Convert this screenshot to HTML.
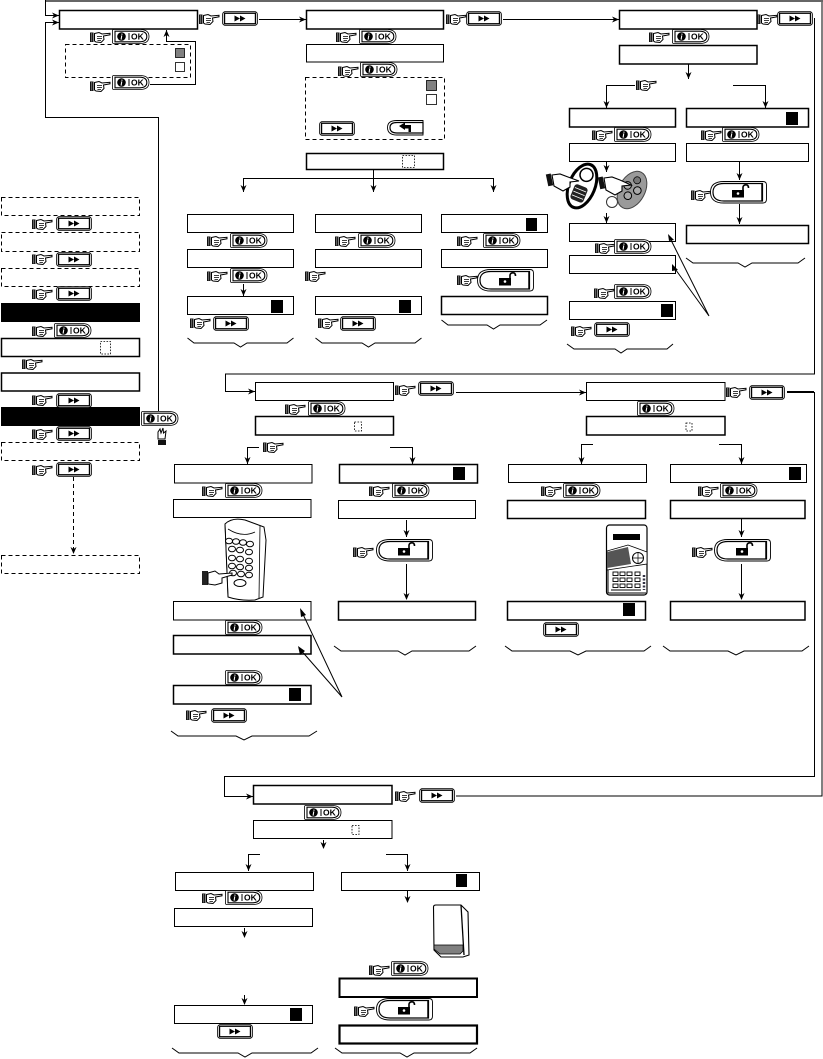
<!DOCTYPE html>
<html><head><meta charset="utf-8"><style>
html,body{margin:0;padding:0;background:#fff}
svg{display:block}
.b{fill:#fff;stroke:#000;stroke-width:1;shape-rendering:crispEdges}
.t{fill:#fff;stroke:#000;stroke-width:1.5}
.d{fill:#fff;stroke:#000;stroke-width:1;stroke-dasharray:4 3;shape-rendering:crispEdges}
.s{fill:#fff;stroke:#000;stroke-width:.8;stroke-dasharray:1.6 1.4}
.l{fill:none;stroke:#000;stroke-width:1;shape-rendering:crispEdges}
.g{fill:none;stroke:#000;stroke-width:1}
.k{fill:#000}
</style></head><body>
<svg width="823" height="1059" viewBox="0 0 823 1059" xmlns="http://www.w3.org/2000/svg">
<defs>
<g id="hand">
<rect x="0" y="1.500" width="3.500" height="9.500" fill="#111"/>
<rect x="1.300" y="2" width=".8" height="8.500" fill="#888"/>
<path d="M4.500 2.500L9 1.500L12 3L20 2.300L20 3.800L13.500 5L14 8.500L11 11.500L6 11L4.500 10Z" fill="#fff" stroke="#000" stroke-width="1"/>
<path d="M7 5.500H12M7 7.500H12M7.500 9.500H11" stroke="#000" stroke-width=".7" fill="none"/>
</g>
<g id="ok">
<path d="M1.500 .5H29Q37 1 37 7.500Q37 14 29 14.500H1.500Q.5 14.500 .5 13V2Q.5 .5 1.500 .5Z" fill="#fff" stroke="#000" stroke-width=".8"/>
<path d="M3 2.200H28Q34.800 2.500 34.800 7.500Q34.800 12.500 28 12.800H3V2.200Z" fill="#fff" stroke="#000" stroke-width="1.100"/>
<circle cx="9.500" cy="7.500" r="4.300" fill="#000"/>
<text x="9.500" y="10.500" font-family="'Liberation Serif',serif" font-size="8" font-weight="bold" font-style="italic" fill="#fff" text-anchor="middle">i</text>
<rect x="16.500" y="4" width="1" height="7" fill="#000"/>
<text x="19" y="10.500" font-family="'Liberation Sans',sans-serif" font-size="8.500" font-weight="bold" fill="#000">OK</text>
</g>
<g id="ff">
<rect x=".5" y=".5" width="35" height="14" rx="3" fill="#fff" stroke="#000" stroke-width=".8"/>
<rect x="2.500" y="2.200" width="31" height="10.600" fill="#fff" stroke="#000" stroke-width="1.400"/>
<path d="M12.500 4.500L18 7.500L12.500 10.500ZM18 4.500L23.500 7.500L18 10.500Z" fill="#000"/>
</g>
<g id="lock">
<path d="M14 .5H53Q56.500 .5 56.500 4V18Q56.500 22 53 22H14Q.5 22 .5 11.200Q.5 .5 14 .5Z" fill="#fff" stroke="#000" stroke-width=".9"/>
<path d="M14 2.500H52.500V20H14Q3 20 3 11.200Q3 2.500 14 2.500Z" fill="#fff" stroke="#000" stroke-width="1.200"/>
<path d="M52 2.500V20" stroke="#000" stroke-width="1.500"/>
<path d="M21 9H33V16.500H21Z" fill="#000" transform="translate(1,0)"/>
<circle cx="28" cy="12.500" r="1.300" fill="#fff"/>
<path d="M33 9V6Q33.500 3.800 36 3.800Q38.500 3.800 38.500 7" fill="none" stroke="#000" stroke-width="1.600"/>
</g>
<path id="ad" d="M0 0L-3 -7L0 -5L3 -7Z" fill="#000"/>
<path id="ar" d="M0 0L-7 -3L-5 0L-7 3Z" fill="#000"/>
<path id="au" d="M0 0L-3 7L0 5L3 7Z" fill="#000"/>
</defs>

<!-- outer return loop -->
<path d="M45.500 1H822V796H456" class="l" style="stroke-width:1.400"/>
<rect x="45" y="0" width="778" height="2" fill="#666"/>
<path d="M45.500 0V15.500H59" class="l"/><use href="#ar" x="59" y="15.500"/>
<path d="M158.500 411V117.500H45.500V22.500H59" class="l"/><use href="#ar" x="59" y="22.500"/>
<path d="M814.500 18V374H225.500V391.500H255" class="l" style="stroke-width:1.200"/><use href="#ar" x="255" y="391.500"/>
<path d="M787 392.500H814.500V776.500H224.500V796.500H253" class="l"/>
<path d="M787 392H814" class="l" style="stroke-width:1.600"/>
<use href="#ar" x="253" y="796.500"/>

<!-- top row links -->
<path d="M259 19.500H306" class="l"/><use href="#ar" x="306" y="19.500"/>
<path d="M503 19.500H619" class="l"/><use href="#ar" x="619" y="19.500"/>
<path d="M456 392.500H586" class="l"/><use href="#ar" x="586" y="392.500"/>

<!-- Block A -->
<rect class="t" x="59.500" y="10.500" width="138" height="18.500"/>
<rect class="d" x="65.500" y="44.500" width="125" height="33"/>
<rect x="175.500" y="48.500" width="9" height="9" fill="#808080" stroke="#000" stroke-width=".8"/>
<rect x="175.500" y="62.500" width="9" height="9" fill="#fff" stroke="#000" stroke-width=".8"/>
<path d="M150 84.500H195.500V41.500H166.500V30" class="l"/><use href="#au" x="166.500" y="30"/>
<use href="#hand" x="199" y="13"/><use href="#ff" x="222" y="11"/>
<use href="#hand" x="90" y="31"/><use href="#ok" x="112" y="29"/>
<use href="#hand" x="90" y="80"/><use href="#ok" x="112" y="75"/>

<!-- Block B -->
<rect class="t" x="306.500" y="10.500" width="137" height="18.500"/>
<rect class="b" x="306.500" y="44.500" width="137" height="17.500"/>
<rect class="d" x="305.500" y="77.500" width="139" height="62"/>
<rect x="426.500" y="80.500" width="10" height="10" fill="#808080" stroke="#000" stroke-width=".8"/>
<rect x="426.500" y="94.500" width="10" height="10" fill="#fff" stroke="#000" stroke-width=".8"/>
<rect class="t" x="306.500" y="153.500" width="137" height="16"/>
<rect class="s" x="402.500" y="155.500" width="12" height="12"/>
<use href="#hand" x="446" y="13"/><use href="#ff" x="466" y="11"/>
<use href="#hand" x="336" y="31"/><use href="#ok" x="359" y="29"/>
<use href="#hand" x="338" y="65"/><use href="#ok" x="360" y="62"/>
<use href="#ff" x="319" y="121"/>
<g transform="translate(387,120)">
<path d="M36 .5V15H10Q.5 15 .5 7.500Q.5 .5 10 .5Z" fill="#fff" stroke="#000" stroke-width=".9"/>
<path d="M36 2.500V13H10Q3 13 3 7.500Q3 2.500 10 2.500Z" fill="#fff" stroke="#000" stroke-width="1.200"/>
<path d="M12 6L18 2.500V5H24V12H21.500V8.500H18V10Z" fill="#000"/>
</g>
<path d="M373.500 170V178.500M243.500 192V178.500H493.500V192M373.500 178V192" class="l"/>
<use href="#ad" x="243.500" y="192"/><use href="#ad" x="373.500" y="192"/><use href="#ad" x="493.500" y="192"/>

<!-- D -->
<rect class="b" x="187.500" y="214.500" width="106" height="18"/>
<rect class="b" x="187.500" y="249.500" width="106" height="18"/>
<rect class="b" x="187.500" y="296.500" width="106" height="18"/>
<rect class="k" x="271" y="300" width="12" height="13"/>
<use href="#hand" x="207" y="235"/><use href="#ok" x="230" y="233"/>
<use href="#hand" x="207" y="270"/><use href="#ok" x="230" y="268"/>
<path d="M243.500 284V296" class="l"/><use href="#ad" x="243.500" y="296"/>
<use href="#hand" x="190" y="317"/><use href="#ff" x="213" y="316"/>
<path d="M187.500 338L194 343H234L240.500 347L247 343H287L293.500 338" class="g"/>

<!-- E -->
<rect class="b" x="315.500" y="214.500" width="106" height="18"/>
<rect class="b" x="315.500" y="249.500" width="106" height="18"/>
<rect class="b" x="315.500" y="296.500" width="106" height="18"/>
<rect class="k" x="399" y="300" width="12" height="13"/>
<use href="#hand" x="335" y="235"/><use href="#ok" x="358" y="233"/>
<use href="#hand" x="305" y="270"/>
<use href="#hand" x="318" y="317"/><use href="#ff" x="340" y="316"/>
<path d="M315.500 338L322 343H362L368.500 347L375 343H415L421.500 338" class="g"/>

<!-- F -->
<rect class="b" x="441.500" y="214.500" width="106" height="18"/>
<rect class="k" x="526" y="218" width="11" height="13"/>
<rect class="b" x="441.500" y="249.500" width="106" height="18"/>
<rect class="t" x="441.500" y="296.500" width="106" height="18"/>
<use href="#hand" x="457" y="235"/><use href="#ok" x="483" y="233"/>
<use href="#hand" x="457" y="274"/><use href="#lock" x="477" y="269"/>
<path d="M441.500 320L448 325H487L493.500 329L500 325H540L547 320" class="g"/>

<!-- C -->
<rect class="t" x="619.500" y="10.500" width="137.500" height="18.500"/>
<rect class="t" x="619.500" y="45.500" width="137.500" height="18.500"/>
<use href="#hand" x="757" y="13"/><use href="#ff" x="777" y="11"/>
<use href="#hand" x="649" y="31"/><use href="#ok" x="672" y="29"/>
<path d="M688.500 64V79" class="l"/><use href="#ad" x="688.500" y="79"/>
<path d="M635 85.500H606.500V108M733 85.500H765.500V108" class="l"/>
<use href="#ad" x="606.500" y="108"/><use href="#ad" x="765.500" y="108"/>
<use href="#hand" x="636" y="79"/>
<rect class="t" x="569.500" y="108.500" width="106" height="18.500"/>
<rect class="b" x="569.500" y="143.500" width="106" height="18"/>
<use href="#hand" x="592" y="129"/><use href="#ok" x="614" y="127"/>
<path d="M606.500 162V172" class="l"/><use href="#ad" x="606.500" y="172"/>
<!-- remotes -->
<g transform="rotate(22 582 186)">
<ellipse cx="582" cy="186" rx="13" ry="23" fill="#fff" stroke="#000" stroke-width="3"/>
<circle cx="582" cy="174" r="6.500" fill="#fff" stroke="#000" stroke-width="1.500"/>
<rect x="575" y="186" width="14" height="16" rx="3" fill="#222"/>
<path d="M576 190H588M576 194H588M576 198H588" stroke="#fff" stroke-width=".8"/>
</g>
<circle cx="612" cy="202" r="5.500" fill="#fff" stroke="#333" stroke-width="1"/>
<g transform="rotate(28 632 190)">
<ellipse cx="632" cy="190" rx="13" ry="20" fill="#9a9a9a" stroke="#444" stroke-width="1"/>
<circle cx="632" cy="179" r="3.500" fill="#777" stroke="#000" stroke-width=".8"/>
<circle cx="626" cy="188" r="3.800" fill="#aaa" stroke="#000" stroke-width="1"/>
<circle cx="637" cy="188" r="3.800" fill="#aaa" stroke="#000" stroke-width="1"/>
<circle cx="631" cy="197" r="3.800" fill="#aaa" stroke="#000" stroke-width="1"/>
</g>
<rect x="547" y="174" width="5" height="12" fill="#111" transform="rotate(-12 549 180)"/>
<path d="M552 175L560 174L568 177L579 181L570 182L570 187L563 191L554 186Z" fill="#fff" stroke="#000" stroke-width="1.100"/>
<rect x="599" y="177" width="5" height="12" fill="#111" transform="rotate(-12 601 183)"/>
<path d="M604 178L612 177L620 180L631 185L622 186L622 191L615 195L606 190Z" fill="#fff" stroke="#000" stroke-width="1.100"/>
<path d="M606.500 213V223" class="l"/><use href="#ad" x="606.500" y="223"/>
<rect class="b" x="569.500" y="223.500" width="106" height="18"/>
<rect class="b" x="569.500" y="255.500" width="106" height="18"/>
<rect class="b" x="569.500" y="301.500" width="106" height="18"/>
<rect class="k" x="661" y="304" width="12" height="13"/>
<use href="#hand" x="595" y="242"/><use href="#ok" x="614" y="239"/>
<use href="#hand" x="594" y="287"/><use href="#ok" x="614" y="284"/>
<use href="#hand" x="571" y="325"/><use href="#ff" x="594" y="322"/>
<path d="M567 344L574 349H615L621 353L627 349H667L673 344" class="g"/>
<path d="M709 316L669 236M709 316L673 266" class="g"/>
<path d="M668 234L674 240L669 241Z" class="k"/><path d="M672 264L678 270L672 271Z" class="k"/>

<rect class="t" x="686.500" y="108.500" width="122" height="18.500"/>
<rect class="k" x="786" y="112" width="12" height="13"/>
<rect class="b" x="686.500" y="143.500" width="122" height="18"/>
<use href="#hand" x="701" y="129"/><use href="#ok" x="722" y="127"/>
<path d="M739.500 162V180" class="l"/><use href="#ad" x="739.500" y="180"/>
<path d="M739.500 204V224" class="l"/><use href="#ad" x="739.500" y="224"/>
<use href="#hand" x="691" y="189"/><use href="#lock" x="710" y="181"/>
<rect class="t" x="686.500" y="225.500" width="122" height="18"/>
<path d="M686 258L693 263H738L745 267L752 263H798L805 258" class="g"/>

<!-- Left column -->
<rect class="d" x="1.500" y="197.500" width="138" height="18"/>
<rect class="d" x="1.500" y="232.500" width="138" height="19"/>
<rect class="d" x="1.500" y="268.500" width="138" height="18"/>
<rect class="k" x="1" y="303" width="139" height="19"/>
<rect class="t" x="1.500" y="338.500" width="138" height="18"/>
<rect class="s" x="100.500" y="341.500" width="10" height="12.500"/>
<rect class="t" x="1.500" y="373" width="138" height="18"/>
<rect class="k" x="1" y="407" width="139" height="19"/>
<rect class="d" x="1.500" y="442.500" width="138" height="18"/>
<rect class="d" x="1.500" y="555.500" width="138" height="18"/>
<use href="#hand" x="32" y="218"/><use href="#ff" x="56" y="216"/>
<use href="#hand" x="32" y="253"/><use href="#ff" x="56" y="252"/>
<use href="#hand" x="32" y="288"/><use href="#ff" x="56" y="286"/>
<use href="#hand" x="32" y="325"/><use href="#ok" x="54" y="323"/>
<use href="#hand" x="22" y="358"/>
<use href="#hand" x="32" y="394"/><use href="#ff" x="56" y="393"/>
<use href="#hand" x="32" y="428"/><use href="#ff" x="56" y="426"/>
<use href="#hand" x="32" y="464"/><use href="#ff" x="56" y="462"/>
<use href="#ok" x="141" y="411"/>
<g transform="translate(156,428)">
<path d="M2 10V4L4 1L5 5L7 0L7.500 5L10 3L9 11H2Z" fill="#fff" stroke="#000" stroke-width="1"/>
<rect x="2" y="12" width="8" height="5" fill="#111"/>
</g>
<path d="M73.500 477V553" class="l" style="stroke-dasharray:4 3"/><use href="#ad" x="73.500" y="554"/>

<!-- G -->
<rect class="b" x="255.500" y="382.500" width="138" height="18"/>
<rect class="t" x="255.500" y="416.500" width="138" height="18.500"/>
<rect class="s" x="354.500" y="422" width="7" height="9"/>
<use href="#hand" x="395" y="384"/><use href="#ff" x="418" y="381"/>
<use href="#hand" x="285" y="403"/><use href="#ok" x="308" y="401"/>
<use href="#hand" x="263" y="441"/>
<path d="M259 447.500H247.500V464M390 447.500H412.500V464" class="l"/>
<use href="#ad" x="247.500" y="464"/><use href="#ad" x="412.500" y="464"/>
<!-- H -->
<rect class="b" x="586.500" y="382.500" width="138.500" height="18"/>
<rect class="t" x="586.500" y="416.500" width="138.500" height="18.500"/>
<rect class="s" x="686" y="423" width="6" height="8"/>
<use href="#hand" x="726" y="386"/><use href="#ff" x="749" y="385"/>
<use href="#ok" x="637" y="401"/>
<path d="M593 444.500H581.500V464M719 444.500H741.500V464" class="l"/>
<use href="#ad" x="581.500" y="464"/><use href="#ad" x="741.500" y="464"/>

<!-- I -->
<rect class="b" x="174.500" y="464.500" width="137.500" height="18.500"/>
<rect class="b" x="173.500" y="499.500" width="137.500" height="18"/>
<use href="#hand" x="202" y="485"/><use href="#ok" x="225" y="483"/>
<path d="M225 524Q232 517 245 520L264 527L266 540L263 597L255 600Q240 601 228 597Z" fill="#fff" stroke="#000" stroke-width="1"/>
<path d="M225 524L228 597M260 526L259 598M228 529Q242 538 255 532" fill="none" stroke="#000" stroke-width=".8"/>
<g fill="#fff" stroke="#000" stroke-width="1">
<ellipse cx="229" cy="541" rx="3.500" ry="2.800"/><ellipse cx="236" cy="541.500" rx="3.500" ry="2.800"/><ellipse cx="243" cy="542.500" rx="3.500" ry="2.800"/><ellipse cx="250" cy="544" rx="3.500" ry="2.800"/>
<ellipse cx="232" cy="549" rx="3.500" ry="2.800"/><ellipse cx="240" cy="550" rx="3.500" ry="2.800"/><ellipse cx="249" cy="552" rx="3.500" ry="2.800"/>
<ellipse cx="232" cy="558" rx="3.500" ry="2.800"/><ellipse cx="240" cy="559" rx="3.500" ry="2.800"/><ellipse cx="249" cy="561" rx="3.500" ry="2.800"/>
<ellipse cx="232" cy="566" rx="3.500" ry="2.800"/><ellipse cx="240" cy="567" rx="3.500" ry="2.800"/><ellipse cx="249" cy="568" rx="3.500" ry="2.800"/>
<ellipse cx="233" cy="573" rx="3.500" ry="2.800"/><ellipse cx="241" cy="574" rx="3.500" ry="2.800"/><ellipse cx="249" cy="575" rx="3.500" ry="2.800"/>
<ellipse cx="240" cy="583" rx="6" ry="3.500"/>
</g>
<rect x="202" y="571" width="6" height="14" fill="#222"/>
<path d="M208 573L215 571L219 574L232 573L232 575L222 578L222 583L215 585L208 584Z" fill="#fff" stroke="#000" stroke-width="1"/>
<rect class="b" x="173.500" y="601.500" width="137.500" height="18.500"/>
<rect class="t" x="173.500" y="635.500" width="137.500" height="18.500"/>
<rect class="t" x="173.500" y="685.500" width="137.500" height="18.500"/>
<rect class="k" x="289" y="688" width="12" height="13"/>
<use href="#ok" x="225" y="620"/><use href="#ok" x="225" y="670"/>
<use href="#hand" x="186" y="709"/><use href="#ff" x="211" y="708"/>
<path d="M171 731L178 736H236L244 740L252 736H309L317 731" class="g"/>
<path d="M342 697L301 610M342 697L299 648" class="g"/>
<path d="M300 608L306 615L301 617Z" class="k"/><path d="M298 646L305 651L300 655Z" class="k"/>

<!-- J -->
<rect class="t" x="339.500" y="464.500" width="138" height="18.500"/>
<rect class="k" x="453" y="467" width="12" height="13"/>
<rect class="b" x="338.500" y="500.500" width="137" height="18"/>
<use href="#hand" x="369" y="485"/><use href="#ok" x="392" y="483"/>
<path d="M406.500 520V537" class="l"/><use href="#ad" x="406.500" y="537"/>
<path d="M406.500 564V599" class="l"/><use href="#ad" x="406.500" y="600"/>
<use href="#hand" x="353" y="546"/><use href="#lock" x="376" y="539"/>
<rect class="t" x="338.500" y="601.500" width="137" height="18.500"/>
<path d="M334 646L341 651H398L405 655L412 651H469L476 646" class="g"/>

<!-- K -->
<rect class="b" x="508.500" y="464.500" width="138" height="18"/>
<rect class="t" x="507.500" y="500.500" width="138" height="18"/>
<use href="#hand" x="541" y="485"/><use href="#ok" x="563" y="483"/>
<rect x="606.500" y="525" width="40.500" height="70" rx="3" fill="#fff" stroke="#000" stroke-width="1.200"/>
<rect x="613" y="534" width="27" height="6" fill="#000"/>
<path d="M607 551L628 545L647 552V564L607 570Z" fill="#fff" stroke="#000" stroke-width=".8"/>
<path d="M607 552L628 547L631 564L607 568Z" fill="#555"/>
<circle cx="638" cy="558" r="5.500" fill="#fff" stroke="#000" stroke-width="1"/>
<path d="M633 558H643M638 553V563" stroke="#000" stroke-width=".7"/>
<g fill="#fff" stroke="#000" stroke-width=".9">
<rect x="613" y="572" width="5" height="3.500"/><rect x="620" y="572" width="5" height="3.500"/><rect x="627" y="572" width="5" height="3.500"/><rect x="635" y="572" width="5" height="3.500"/>
<rect x="613" y="578" width="5" height="3.500"/><rect x="620" y="578" width="5" height="3.500"/><rect x="627" y="578" width="5" height="3.500"/><rect x="635" y="578" width="5" height="3.500"/>
<rect x="613" y="584" width="5" height="3.500"/><rect x="620" y="584" width="5" height="3.500"/><rect x="627" y="584" width="5" height="3.500"/><rect x="635" y="584" width="5" height="3.500"/>
</g>
<path d="M608 570V593H646M611 590H641" fill="none" stroke="#000" stroke-width="1"/>
<path d="M644 575V590" stroke="#334" stroke-width="2.500" stroke-dasharray="2 1.500"/>
<rect class="t" x="507.500" y="601.500" width="138" height="18.500"/>
<rect class="k" x="623" y="603" width="12" height="13"/>
<use href="#ff" x="543" y="622"/>
<path d="M505 646L512 651H570L578 655L586 651H644L651 646" class="g"/>

<!-- M -->
<rect class="b" x="670.500" y="464.500" width="136" height="18"/>
<rect class="k" x="789" y="467" width="12" height="13"/>
<rect class="t" x="670.500" y="500.500" width="134.500" height="18"/>
<use href="#hand" x="698" y="485"/><use href="#ok" x="720" y="483"/>
<path d="M741.500 519V537" class="l"/><use href="#ad" x="741.500" y="537"/>
<path d="M741.500 564V599" class="l"/><use href="#ad" x="741.500" y="600"/>
<use href="#hand" x="692" y="546"/><use href="#lock" x="714" y="539"/>
<rect class="t" x="670.500" y="601.500" width="134.500" height="18.500"/>
<path d="M663 646L670 651H728L736 655L744 651H802L809 646" class="g"/>

<!-- N -->
<rect class="t" x="253.500" y="785.500" width="138.500" height="18.500"/>
<rect class="b" x="253.500" y="820.500" width="138.500" height="18"/>
<rect class="s" x="352" y="825.500" width="7" height="9"/>
<use href="#hand" x="395" y="790"/><use href="#ff" x="419" y="788"/>
<use href="#ok" x="304" y="805"/>
<path d="M323.500 840V848" class="l"/><use href="#ad" x="323.500" y="849"/>
<path d="M260 854.500H248.500V871M386 854.500H407.500V871" class="l"/>
<use href="#ad" x="248.500" y="871"/><use href="#ad" x="407.500" y="871"/>
<!-- O -->
<rect class="b" x="175.500" y="872.500" width="138" height="18"/>
<rect class="b" x="174.500" y="908.500" width="138" height="18"/>
<use href="#hand" x="202" y="892"/><use href="#ok" x="225" y="890"/>
<path d="M244.500 928V937" class="l"/><use href="#ad" x="244.500" y="938"/>
<path d="M244.500 995V1004" class="l"/><use href="#ad" x="244.500" y="1005"/>
<rect class="b" x="174.500" y="1005.500" width="138" height="18"/>
<rect class="k" x="290" y="1008" width="12" height="13"/>
<use href="#ff" x="217" y="1024"/>
<path d="M172 1048L179 1053H238L245 1057L252 1053H311L318 1048" class="g"/>
<!-- P -->
<rect class="b" x="341.500" y="872.500" width="138" height="18"/>
<rect class="k" x="456" y="874" width="11" height="13"/>
<path d="M407.500 890V902" class="l"/><use href="#ad" x="407.500" y="903"/>
<path d="M433.500 907Q433.500 905 436 905H461L468 912L469 955L463 957H441L434 950Z" fill="#fff" stroke="#000" stroke-width="1.100"/>
<path d="M461 905L464 955" stroke="#000" stroke-width="1.300"/>
<path d="M434 945H463L463 951L460 954H440L434 949Z" fill="#808080" stroke="#000" stroke-width=".8"/>
<use href="#hand" x="369" y="964"/><use href="#ok" x="391" y="961"/>
<rect class="t" x="339.500" y="978.500" width="137.500" height="18.500" style="stroke-width:2"/>
<use href="#hand" x="354" y="1005"/><use href="#lock" x="376" y="998"/>
<rect class="t" x="339.500" y="1025.500" width="137.500" height="18" style="stroke-width:2.200"/>
<path d="M335 1048L342 1053H400L407 1057L414 1053H470L477 1048" class="g"/>
</svg>
</body></html>
